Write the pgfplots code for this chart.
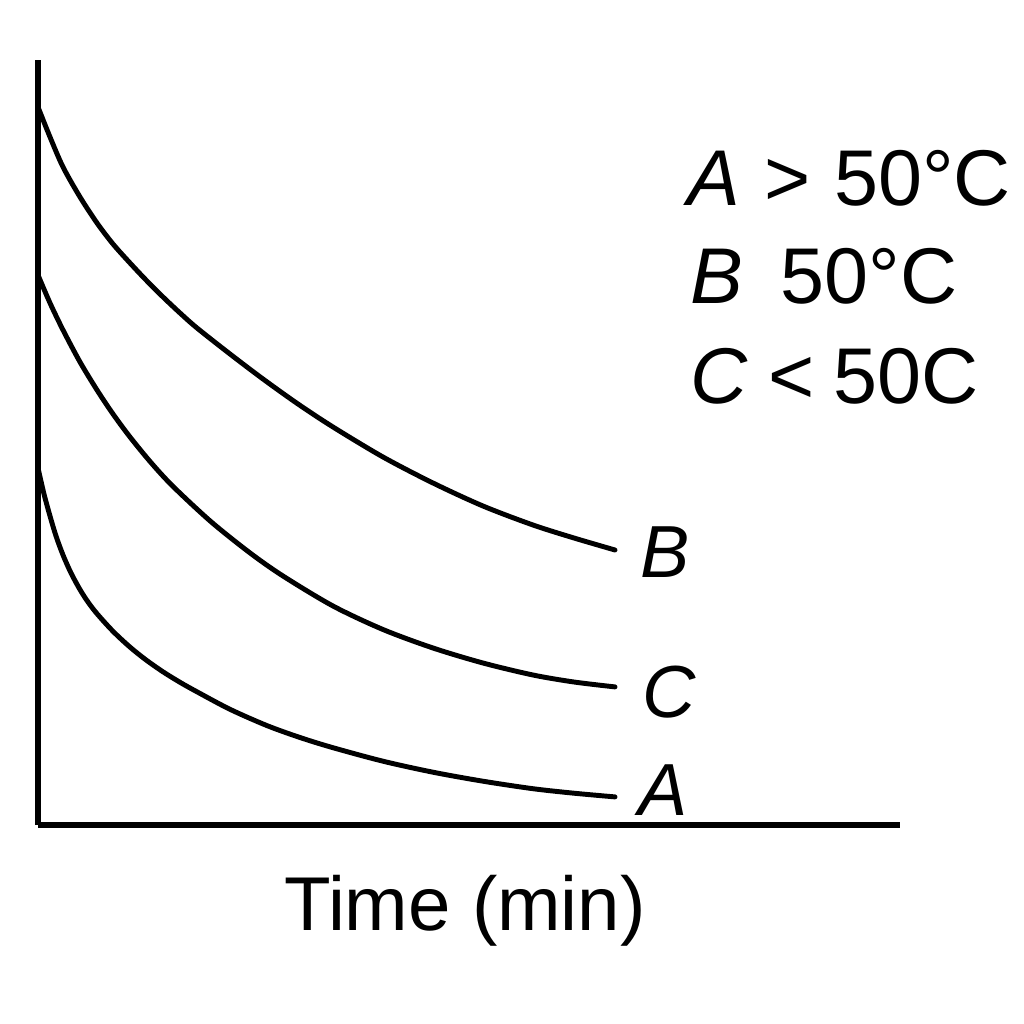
\documentclass[border=0pt]{standalone}
\usepackage{pgfplots}
\pgfplotsset{compat=1.18}
\usepackage{fontspec}
\setmainfont{Liberation Sans}
\begin{document}
\fontsize{21}{25}\selectfont
\begin{tikzpicture}
\useasboundingbox (0,0) rectangle (10.24,-10.24);
\begin{axis}[
  at={(0.38cm,-8.25cm)}, anchor=south west,
  scale only axis, width=8.62cm, height=7.65cm,
  xmin=0, xmax=862, ymin=0, ymax=765,
  axis lines=left, axis line style={line width=1.5pt, -},
  ticks=none, clip=false,
  curve/.style={black, line width=1.4pt, smooth, no marks, line cap=round},
]
% B (50 C)
\addplot[curve] coordinates {(0,718) (12,688) (25,658) (42,628) (59,602) (75,581) (92,562) (108,545) (125,528) (142,512) (159,497) (192,471) (225,446) (260,421) (295,398) (345,368) (395,342) (445,319) (495,300) (536,287) (577,275)};
% C (< 50 C)
\addplot[curve] coordinates {(0,550) (12,522) (25,495) (42,463) (59,435) (75,411) (92,388) (113,362.4) (135,338.6) (173,303.3) (212,272.1) (245,249) (295,219) (345,195.5) (395,177) (445,162) (495,150) (536,143) (577,138.1)};
% A (> 50 C)
\addplot[curve] coordinates {(0,357) (6,331) (12,309) (18,289) (25,270) (33,252) (42,235.4) (50,223) (59,211.3) (75,193.7) (92,177.9) (108,165.1) (125,153.2) (142,142.7) (159,133.2) (192,115.7) (229,99.4) (262,87.5) (295,77.3) (345,63.8) (395,52.8) (445,43.8) (495,36.3) (536,31.8) (577,28.1)};
\end{axis}
\node[anchor=base west, inner sep=0pt] at (6.40,-5.77) {\textit{B}};
\node[anchor=base west, inner sep=0pt] at (6.42,-7.17) {\textit{C}};
\node[anchor=base west, inner sep=0pt] at (6.38,-8.15) {\textit{A}};
\begin{scope}[every node/.style={anchor=base west, inner sep=0pt, font=\fontsize{22.5}{27}\selectfont}]
\node at (6.87,-2.05) {\textit{A}\hspace{0.3em}>\hspace{0.3em}50°C};
\node at (6.90,-3.03) {\textit{B}\hspace{0.47em}50°C};
\node at (6.90,-4.03) {\textit{C}\hspace{0.25em}<\hspace{0.25em}50C};
\end{scope}
\node[anchor=base, inner sep=0pt, font=\fontsize{21.7}{26}\selectfont] at (4.65,-9.30) {Time (min)};
\node[anchor=base east, inner sep=0pt] at (0.07,-3.82) {G};
\end{tikzpicture}
\end{document}
